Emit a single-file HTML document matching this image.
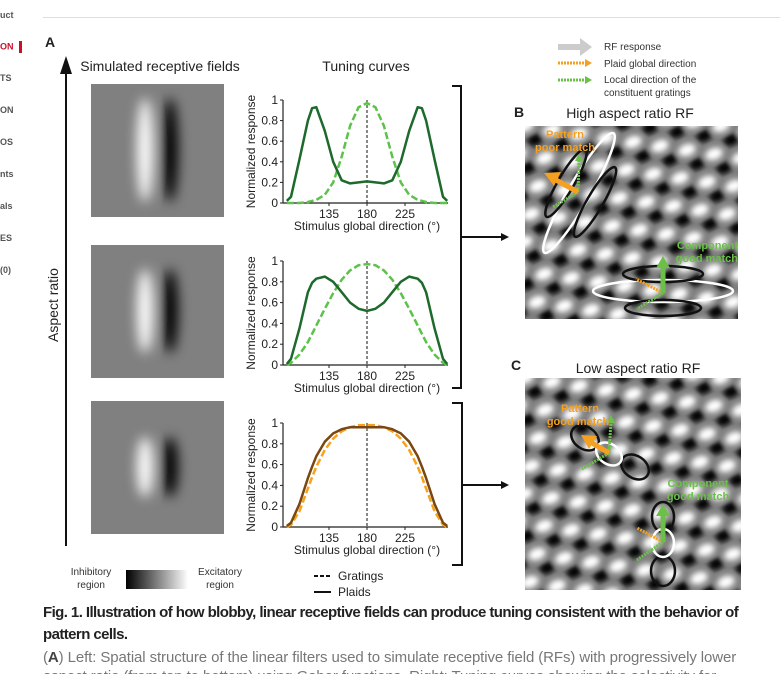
<!DOCTYPE html>
<html><head><meta charset="utf-8">
<style>
html,body{margin:0;background:#fff;width:780px;height:674px;overflow:hidden;}
#root{position:relative;width:780px;height:674px;overflow:hidden;font-family:"Liberation Sans",sans-serif;}
.side{position:absolute;left:0;font-size:9px;color:#555;font-weight:bold;}
.cap{position:absolute;left:43px;font-size:15px;letter-spacing:-0.58px;white-space:nowrap;}
</style></head>
<body>
<div id="root">
<div class="side" style="top:10px">uct</div>
<div class="side" style="top:41px;color:#c8102e">ON <span style="display:inline-block;width:3px;height:12px;background:#c8102e;vertical-align:middle;margin-left:3px"></span></div>
<div class="side" style="top:73px">TS</div>
<div class="side" style="top:105px">ON</div>
<div class="side" style="top:137px">OS</div>
<div class="side" style="top:169px">nts</div>
<div class="side" style="top:201px">als</div>
<div class="side" style="top:233px">ES</div>
<div class="side" style="top:265px">(0)</div>
<div style="position:absolute;left:43px;top:17px;width:737px;height:1px;background:#ddd"></div>

<svg id="fig" width="780" height="674" style="position:absolute;left:0;top:0">
<defs>
<filter id="blur3" x="-50%" y="-50%" width="200%" height="200%"><feGaussianBlur stdDeviation="6"/></filter>
<filter id="blurP" x="-10%" y="-10%" width="120%" height="120%"><feGaussianBlur stdDeviation="3"/></filter>
<linearGradient id="lg" x1="0" x2="1"><stop offset="0" stop-color="#000"/><stop offset="1" stop-color="#fff"/></linearGradient>
<clipPath id="cB"><rect x="525" y="126" width="213" height="193"/></clipPath>
<clipPath id="cC"><rect x="525" y="378" width="216" height="212"/></clipPath>
<clipPath id="r1"><rect x="91" y="84" width="133" height="133"/></clipPath>
<clipPath id="r2"><rect x="91" y="245" width="133" height="133"/></clipPath>
<clipPath id="r3"><rect x="91" y="401" width="133" height="133"/></clipPath>
<marker id="ah" markerWidth="8" markerHeight="8" refX="6" refY="4" orient="auto" markerUnits="userSpaceOnUse"><path d="M0,0L8,4L0,8z" fill="#111"/></marker>
</defs>
<g font-family="Liberation Sans, sans-serif" fill="#222">
<text x="45" y="47" font-weight="bold" font-size="14">A</text>
<text x="160" y="71" font-size="14" text-anchor="middle">Simulated receptive fields</text>
<text x="366" y="71" font-size="14" text-anchor="middle">Tuning curves</text>
<text x="514" y="117" font-weight="bold" font-size="14">B</text>
<text x="630" y="118" font-size="14" text-anchor="middle">High aspect ratio RF</text>
<text x="511" y="370" font-weight="bold" font-size="14">C</text>
<text x="638" y="373" font-size="14" text-anchor="middle">Low aspect ratio RF</text>
<text x="58" y="305" font-size="14" transform="rotate(-90 58 305)" text-anchor="middle">Aspect ratio</text>
</g>
<line x1="66" y1="546" x2="66" y2="70" stroke="#111" stroke-width="2"/>
<path d="M60,74L66,56L72,74z" fill="#111"/>
<g id="rfs"></g>
<g>
<rect x="126" y="570" width="62" height="19" fill="url(#lg)"/>
<text x="91" y="575" font-size="10" text-anchor="middle" fill="#333" font-family="Liberation Sans, sans-serif">Inhibitory</text>
<text x="91" y="588" font-size="10" text-anchor="middle" fill="#333" font-family="Liberation Sans, sans-serif">region</text>
<text x="220" y="575" font-size="10" text-anchor="middle" fill="#333" font-family="Liberation Sans, sans-serif">Excitatory</text>
<text x="220" y="588" font-size="10" text-anchor="middle" fill="#333" font-family="Liberation Sans, sans-serif">region</text>
</g>
<g id="charts"></g>
<g font-family="Liberation Sans, sans-serif" font-size="12" fill="#222">
<line x1="314" y1="576" x2="331" y2="576" stroke="#111" stroke-width="2" stroke-dasharray="4,2"/>
<text x="338" y="580">Gratings</text>
<line x1="314" y1="592" x2="331" y2="592" stroke="#111" stroke-width="2"/>
<text x="338" y="596">Plaids</text>
</g>
<g stroke="#111" stroke-width="2" fill="none">
<path d="M452,86H461V388H452"/>
<path d="M452,403H462V565H452"/>
<line x1="461" y1="237" x2="507" y2="237" marker-end="url(#ah)"/>
<line x1="462" y1="485" x2="507" y2="485" marker-end="url(#ah)"/>
</g>
<g font-family="Liberation Sans, sans-serif" font-size="10" fill="#333">
<path d="M558,44H580V38L592,47L580,56V50H558z" fill="#ccc"/>
<text x="604" y="50">RF response</text>
<line x1="558" y1="63" x2="585" y2="63" stroke="#f5a020" stroke-width="3" stroke-dasharray="2,1"/>
<path d="M585,59L592,63L585,67z" fill="#f5a020"/>
<text x="604" y="67">Plaid global direction</text>
<line x1="558" y1="80" x2="585" y2="80" stroke="#6cc04a" stroke-width="3" stroke-dasharray="2,1"/>
<path d="M585,76L592,80L585,84z" fill="#6cc04a"/>
<text x="604" y="83">Local direction of the</text>
<text x="604" y="96">constituent gratings</text>
</g>
<g id="plaidB" clip-path="url(#cB)"></g>
<g id="plaidC" clip-path="url(#cC)"></g>
<g fill="none" font-family="Liberation Sans, sans-serif">
<ellipse cx="579" cy="193" rx="69" ry="11" transform="rotate(-60 579 193)" stroke="#fff" stroke-width="2.5"/>
<ellipse cx="566" cy="183" rx="39" ry="8" transform="rotate(-60 566 183)" stroke="#111" stroke-width="2.5"/>
<ellipse cx="595" cy="202" rx="40" ry="8" transform="rotate(-60 595 202)" stroke="#111" stroke-width="2.5"/>
<line x1="578" y1="192" x2="579" y2="160" stroke="#6cc04a" stroke-width="3" stroke-dasharray="2,1"/>
<path d="M575,161L579,154L583,161z" fill="#6cc04a"/>
<line x1="578" y1="192" x2="553" y2="207" stroke="#6cc04a" stroke-width="3" stroke-dasharray="2,1"/>
<line x1="578" y1="192" x2="556" y2="180" stroke="#f5a020" stroke-width="5"/>
<path d="M544,173L561,172L554,186z" fill="#f5a020"/>
<text x="565" y="138" font-size="11" font-weight="bold" fill="#f5a020" text-anchor="middle">Pattern</text>
<text x="565" y="151" font-size="11" font-weight="bold" fill="#f5a020" text-anchor="middle">poor match</text>
<ellipse cx="663" cy="291" rx="70" ry="11" stroke="#fff" stroke-width="2.5"/>
<ellipse cx="663" cy="274" rx="40" ry="8" stroke="#111" stroke-width="2.5"/>
<ellipse cx="663" cy="308" rx="38" ry="8" stroke="#111" stroke-width="2.5"/>
<line x1="663" y1="293" x2="636" y2="279" stroke="#f5a020" stroke-width="3" stroke-dasharray="2,1"/>
<line x1="663" y1="293" x2="637" y2="309" stroke="#6cc04a" stroke-width="3" stroke-dasharray="2,1"/>
<line x1="663" y1="293" x2="663" y2="266" stroke="#6cc04a" stroke-width="5"/>
<path d="M656,268L663,256L670,268z" fill="#6cc04a"/>
<text x="738" y="249" font-size="11" font-weight="bold" fill="#6cc04a" text-anchor="end">Component</text>
<text x="738" y="262" font-size="11" font-weight="bold" fill="#6cc04a" text-anchor="end">good match</text>
</g>
<g fill="none" font-family="Liberation Sans, sans-serif">
<ellipse cx="585" cy="438" rx="15" ry="11" transform="rotate(35 585 438)" stroke="#111" stroke-width="2.5"/>
<ellipse cx="635" cy="467" rx="15" ry="11" transform="rotate(35 635 467)" stroke="#111" stroke-width="2.5"/>
<ellipse cx="609" cy="454" rx="14" ry="10" transform="rotate(35 609 454)" stroke="#fff" stroke-width="2.5"/>
<line x1="609" y1="453" x2="611" y2="422" stroke="#6cc04a" stroke-width="3" stroke-dasharray="2,1"/>
<path d="M607,423L611,415L615,423z" fill="#6cc04a"/>
<line x1="609" y1="453" x2="582" y2="469" stroke="#6cc04a" stroke-width="3" stroke-dasharray="2,1"/>
<line x1="609" y1="453" x2="592" y2="443" stroke="#f5a020" stroke-width="5"/>
<path d="M581,435L597,436L589,449z" fill="#f5a020"/>
<text x="580" y="412" font-size="11" font-weight="bold" fill="#f5a020" text-anchor="middle">Pattern</text>
<text x="578" y="425" font-size="11" font-weight="bold" fill="#f5a020" text-anchor="middle">good match</text>
<ellipse cx="663" cy="517" rx="11" ry="15" stroke="#111" stroke-width="2.5"/>
<ellipse cx="663" cy="571" rx="12" ry="15" stroke="#111" stroke-width="2.5"/>
<ellipse cx="663" cy="543" rx="11" ry="14" stroke="#fff" stroke-width="2.5"/>
<line x1="663" y1="542" x2="637" y2="528" stroke="#f5a020" stroke-width="3" stroke-dasharray="2,1"/>
<line x1="663" y1="542" x2="637" y2="560" stroke="#6cc04a" stroke-width="3" stroke-dasharray="2,1"/>
<line x1="663" y1="542" x2="663" y2="515" stroke="#6cc04a" stroke-width="5"/>
<path d="M656,516L663,504L670,516z" fill="#6cc04a"/>
<text x="698" y="487" font-size="11" font-weight="bold" fill="#6cc04a" text-anchor="middle">Component</text>
<text x="698" y="500" font-size="11" font-weight="bold" fill="#6cc04a" text-anchor="middle">good match</text>
</g>
</svg>

<div class="cap" style="top:604px;font-weight:bold;color:#222">Fig. 1. Illustration of how blobby, linear receptive fields can produce tuning consistent with the behavior of</div>
<div class="cap" style="top:626px;font-weight:bold;color:#222">pattern cells.</div>
<div class="cap" style="top:649px;color:#777;letter-spacing:-0.1px">(<b style="color:#444">A</b>) Left: Spatial structure of the linear filters used to simulate receptive field (RFs) with progressively lower</div>
<div class="cap" style="top:668px;color:#777;letter-spacing:-0.1px">aspect ratio (from top to bottom) using Gabor functions. Right: Tuning curves showing the selectivity for</div>
</div>

<script>
const NS="http://www.w3.org/2000/svg";
function mk(t,a,p){const e=document.createElementNS(NS,t);for(const k in a)e.setAttribute(k,a[k]);if(p)p.appendChild(e);return e;}

// Tuning curve data (direction in degrees, normalized response)
const directions=[85,90,100,110,115,120,130,140,150,160,170,180,190,200,210,220,230,240,245,250,260,270,275];
const plaid1=[0.02,0.06,0.42,0.8,0.92,0.93,0.7,0.4,0.22,0.19,0.2,0.21,0.2,0.19,0.22,0.4,0.7,0.93,0.92,0.8,0.42,0.06,0.02];
const grating1=[0,0,0,0.01,0.02,0.03,0.08,0.2,0.45,0.75,0.93,0.97,0.93,0.75,0.45,0.2,0.08,0.03,0.02,0.01,0,0,0];
const plaid2=[0.01,0.06,0.35,0.7,0.79,0.83,0.85,0.8,0.7,0.6,0.54,0.52,0.54,0.6,0.7,0.8,0.85,0.83,0.79,0.7,0.35,0.06,0.01];
const grating2=[0,0.02,0.1,0.22,0.3,0.38,0.54,0.69,0.82,0.91,0.96,0.97,0.96,0.91,0.82,0.69,0.54,0.38,0.3,0.22,0.1,0.02,0];
const plaid3=[0.01,0.04,0.22,0.47,0.58,0.68,0.82,0.9,0.94,0.96,0.96,0.96,0.96,0.96,0.94,0.9,0.82,0.68,0.58,0.47,0.22,0.04,0.01];
const grating3=[0,0.02,0.15,0.37,0.48,0.58,0.74,0.85,0.92,0.96,0.98,0.98,0.98,0.96,0.92,0.85,0.74,0.58,0.48,0.37,0.15,0.02,0];
const xTicks=[135,180,225];
const yTicks=[0,0.2,0.4,0.6,0.8,1];
const yTickLabels=["0","0.2","0.4","0.6","0.8","1"];

const charts=[
 {top:100,bottom:203,plaid:plaid1,grat:grating1,pc:"#1d6a2c",gc:"#5cc24a"},
 {top:261,bottom:365,plaid:plaid2,grat:grating2,pc:"#1d6a2c",gc:"#5cc24a"},
 {top:423,bottom:527,plaid:plaid3,grat:grating3,pc:"#7a4710",gc:"#f7a21e"}
];
const cg=document.getElementById('charts');
const xs=d=>367+(d-180)*(38/45);
charts.forEach((c,i)=>{
  const ys=v=>c.bottom-(c.bottom-c.top)*v;
  const g=mk('g',{},cg);
  
  
  const ax=mk('path',{d:`M283,${ys(1)}V${c.bottom}H448`,stroke:'#222','stroke-width':1.2,fill:'none'},g);
  
  
  yTicks.forEach((t,j)=>{
    mk('line',{x1:280,x2:283,y1:ys(t),y2:ys(t),stroke:'#222'},g);
    const tx=mk('text',{x:278,y:ys(t)+4,'font-size':12,'text-anchor':'end',fill:'#222','font-family':'Liberation Sans, sans-serif'},g);
    tx.textContent=yTickLabels[j];
    
    
  });
  xTicks.forEach(t=>{
    mk('line',{x1:xs(t),x2:xs(t),y1:c.bottom,y2:c.bottom+3,stroke:'#222'},g);
    const tx=mk('text',{x:xs(t),y:c.bottom+15,'font-size':12,'text-anchor':'middle',fill:'#222','font-family':'Liberation Sans, sans-serif'},g);
    tx.textContent=t;
    
    
  });
  const xl=mk('text',{x:367,y:c.bottom+27,'font-size':12,'text-anchor':'middle',fill:'#222','font-family':'Liberation Sans, sans-serif'},g);
  xl.textContent='Stimulus global direction (°)';
  
  
  const my=(c.top+c.bottom)/2;
  const yl=mk('text',{x:255,y:my,'font-size':12,'text-anchor':'middle',fill:'#222','font-family':'Liberation Sans, sans-serif',transform:`rotate(-90 255 ${my})`},g);
  yl.textContent='Normalized response';
  
  
  const ref=mk('line',{x1:xs(180),x2:xs(180),y1:ys(1),y2:c.bottom,stroke:'#111','stroke-dasharray':'3,2','stroke-width':1},g);
  
  
  const pts=a=>a.map((v,k)=>xs(directions[k]).toFixed(1)+','+ys(v).toFixed(1)).join(' ');
  const gl=mk('polyline',{points:pts(c.grat),fill:'none',stroke:c.gc,'stroke-width':2.5,'stroke-dasharray':'7,3','stroke-linejoin':'round'},g);
  
  
  const pl=mk('polyline',{points:pts(c.plaid),fill:'none',stroke:c.pc,'stroke-width':2.5,'stroke-linejoin':'round'},g);
  
  
});

// Receptive field images
const rfg=document.getElementById('rfs');
[[84,52,1],[245,42,2],[401,30,3]].forEach(([top,ry,n])=>{
  const g=mk('g',{'clip-path':`url(#r${n})`},rfg);
  
  
  mk('rect',{x:91,y:top,width:133,height:133,fill:'#808080'},g);
  const b=mk('g',{filter:'url(#blur3)'},g);
  mk('ellipse',{cx:145,cy:top+66,rx:8,ry:ry,fill:'#fff'},b);
  mk('ellipse',{cx:170,cy:top+66,rx:8,ry:ry,fill:'#000'},b);
});

// Plaid blob pattern
function plaid(id,x0,y0,w,h){
  const g=document.getElementById(id);
  mk('rect',{x:x0,y:y0,width:w,height:h,fill:'#808080'},g);
  const b=mk('g',{filter:'url(#blurP)'},g);
  for(let r=-3;r<12;r++){for(let c=-6;c<12;c++){
    const cx=x0+c*27-r*7, cy=y0+r*28+c*4;
    mk('ellipse',{cx:cx,cy:cy,rx:9,ry:6,fill:'#fff',transform:`rotate(-20 ${cx} ${cy})`},b);
    mk('ellipse',{cx:cx+10,cy:cy+14,rx:8,ry:6,fill:'#000',transform:`rotate(-20 ${cx+10} ${cy+14})`},b);
  }}
}
plaid('plaidB',525,126,213,193);
plaid('plaidC',525,378,216,212);
</script>
</body></html>
